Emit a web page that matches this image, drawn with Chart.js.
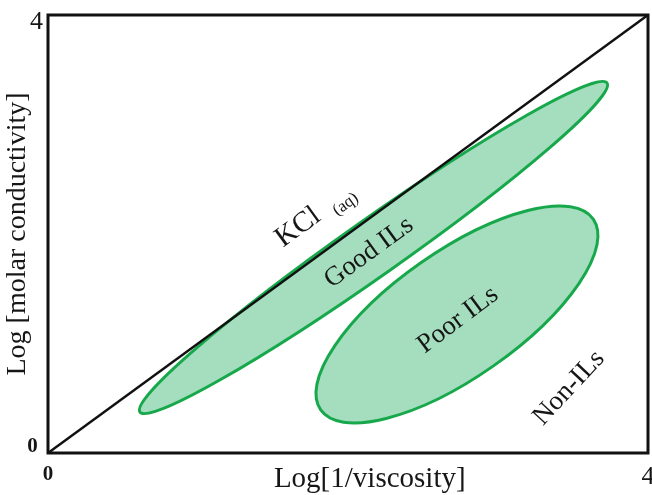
<!DOCTYPE html>
<html>
<head>
<meta charset="utf-8">
<script src="https://cdn.jsdelivr.net/npm/chart.js@4.4.1/dist/chart.umd.min.js"></script>
<style>
    html, body { margin: 0; padding: 0; background: #fff; }
</style>
</head>
<body>
<canvas id="walden" width="652" height="495"></canvas>
<script>
// axis range and tick values
const axisMin = 0
const axisMax = 4
const axisTicks = [0, 4]

// KCl (aq) reference line
const kclX = [0, 4]
const kclY = [0, 4]

// regions: long axis end points (data units) and width / length ratio
const regionNames = ['Good ILs', 'Poor ILs']
const regionStartX = [0.613, 1.818]
const regionStartY = [0.374, 0.394]
const regionEndX = [3.727, 3.635]
const regionEndY = [3.379, 2.136]
const regionRatio = [0.098, 0.379]

// text labels in data units
const labelTexts = ['KCl', '(aq)', 'Good ILs', 'Poor ILs', 'Non-ILs']
const labelX = [1.667, 1.985, 2.14, 2.733, 3.473]
const labelY = [2.06, 2.27, 1.83, 1.215, 0.594]

const SERIF = '"Liberation Serif", "Times New Roman", serif'
const TEXT = '#161616'
const FILL = 'rgb(165,222,190)'
const EDGE = 'rgb(24,168,76)'

const labelStyle = {
    'KCl': { size: 29, angle: -36 },
    '(aq)': { size: 17, angle: -36 },
    'Good ILs': { size: 27, angle: -36 },
    'Poor ILs': { size: 27, angle: -37 },
    'Non-ILs': { size: 27, angle: -47 }
}

const regionsPlugin = {
    id: 'regions',
    beforeDatasetsDraw(chart) {
        const { ctx, scales: { x, y } } = chart
        ctx.save()
        regionNames.forEach((name, i) => {
            const x1 = x.getPixelForValue(regionStartX[i])
            const y1 = y.getPixelForValue(regionStartY[i])
            const x2 = x.getPixelForValue(regionEndX[i])
            const y2 = y.getPixelForValue(regionEndY[i])
            const a = Math.hypot(x2 - x1, y2 - y1) / 2
            ctx.beginPath()
            ctx.ellipse((x1 + x2) / 2, (y1 + y2) / 2, a, a * regionRatio[i], Math.atan2(y2 - y1, x2 - x1), 0, Math.PI * 2)
            ctx.fillStyle = FILL
            ctx.fill()
            ctx.lineWidth = 3
            ctx.strokeStyle = EDGE
            ctx.stroke()
        })
        ctx.restore()
    },
    afterDatasetsDraw(chart) {
        const { ctx, scales: { x, y } } = chart
        ctx.save()
        ctx.fillStyle = TEXT
        ctx.textAlign = 'center'
        ctx.textBaseline = 'middle'
        labelTexts.forEach((text, i) => {
            const st = labelStyle[text]
            ctx.save()
            ctx.translate(x.getPixelForValue(labelX[i]), y.getPixelForValue(labelY[i]))
            ctx.rotate(st.angle * Math.PI / 180)
            ctx.font = st.size + 'px ' + SERIF
            ctx.fillText(text, 0, 0)
            ctx.restore()
        })
        ctx.restore()
    },
    afterDraw(chart) {
        const { ctx, chartArea: a } = chart
        ctx.save()
        ctx.lineWidth = 3
        ctx.strokeStyle = '#111'
        ctx.strokeRect(a.left, a.top, a.right - a.left, a.bottom - a.top)
        ctx.restore()
    }
}

function tickFont(size, bold, lineHeight) {
    return { family: SERIF, size, weight: bold ? 'bold' : 'normal', lineHeight }
}

new Chart(document.getElementById('walden').getContext('2d'), {
    type: 'scatter',
    data: {
        datasets: [{
            label: 'KCl (aq)',
            data: kclX.map((v, i) => ({ x: v, y: kclY[i] })),
            showLine: true,
            borderColor: '#111',
            borderWidth: 2.5,
            pointRadius: 0
        }]
    },
    options: {
        responsive: false,
        animation: false,
        layout: { padding: { top: 15, right: 4, left: 0, bottom: 0 } },
        plugins: {
            legend: { display: false },
            tooltip: { enabled: false }
        },
        scales: {
            x: {
                type: 'linear',
                min: axisMin,
                max: axisMax,
                afterBuildTicks: s => { s.ticks = axisTicks.map(value => ({ value })) },
                grid: { display: false, drawTicks: false },
                border: { display: false },
                ticks: {
                    padding: 9,
                    color: TEXT,
                    font: c => c.tick && c.tick.value === 0 ? tickFont(21, true) : tickFont(26, false)
                },
                title: {
                    display: true,
                    text: '\u2002\u2002\u2002Log[1/viscosity]',
                    color: TEXT,
                    padding: 0,
                    font: { family: SERIF, size: 29, lineHeight: 1.05 }
                },
                afterFit: s => { s.height = 42; s.paddingLeft = 0; s.paddingRight = 0 }
            },
            y: {
                type: 'linear',
                min: axisMin,
                max: axisMax,
                afterBuildTicks: s => { s.ticks = axisTicks.map(value => ({ value })) },
                grid: { display: false, drawTicks: false },
                border: { display: false },
                ticks: {
                    padding: 5,
                    color: TEXT,
                    // push the end labels inwards, like the original
                    callback: v => v === 0 ? ['0 ', ''] : ['', String(v)],
                    font: c => c.tick && c.tick.value === 0 ? tickFont(21, true, 0.57) : tickFont(26, false, 0.55)
                },
                title: {
                    display: true,
                    text: 'Log [molar conductivity]',
                    color: TEXT,
                    padding: { top: 1, bottom: 0 },
                    font: { family: SERIF, size: 28 }
                },
                afterFit: s => { s.width = 48; s.paddingTop = 0; s.paddingBottom = 0 }
            }
        }
    },
    plugins: [regionsPlugin]
})
</script>
</body>
</html>
